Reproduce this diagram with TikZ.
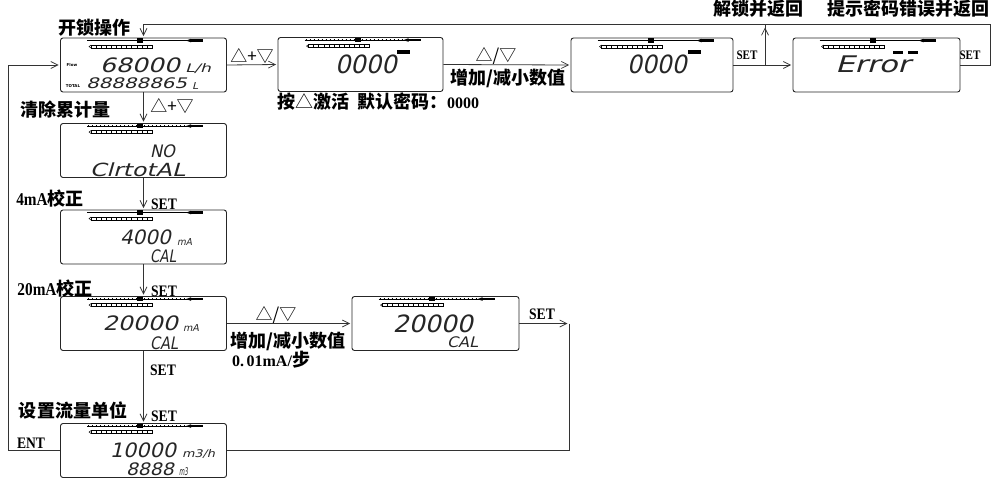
\documentclass[tikz,border=0pt]{standalone}
\usepackage{fontspec}
\usepackage{graphicx}
\usetikzlibrary{arrows.meta,calc}
\setmainfont{Liberation Serif}
\newfontfamily\cjk{Noto Sans CJK SC}
\newfontfamily\latb{Liberation Serif Bold}[FakeStretch=0.85]
\newfontfamily\latbw{Liberation Serif Bold}
\newfontfamily\lcdf{DejaVu Sans}[FakeSlant=0.22]
\newfontfamily\tinyf{DejaVu Sans Bold}
\newcommand\lcdt[6]{\node[inner sep=0,outer sep=0,text=black!85] (#1) at ({(#2+#4)/2},{(#3+#5)/2}) {\resizebox*{\dimexpr#4pt-#2pt\relax}{\dimexpr#5pt-#3pt\relax}{\lcdf #6}};}
\tikzset{lcdbar/.pic={
  \draw[line width=0.5pt] (27,3) -- (143,3);
  \draw[line width=1.6pt, dash pattern=on 1pt off 3pt] (28,3) -- (128,3);
  \fill (77,0.8) rectangle (83,5.2);
  \fill (130,1.8) rectangle (143,4.2);
  \fill (126,3) -- (131,1.2) -- (131,4.8) -- cycle;
  \draw[line width=0.5pt] (31,7.5) rectangle (92,10.5);
  \foreach \i in {1,...,11} \draw[line width=0.5pt] ({31+\i*61/12},7.5) -- ++(0,3);
  \draw[line width=0.5pt] (31,7.5) -- (29,9) -- (31,10.5);
}}
\begin{document}
\begin{tikzpicture}[x=1pt,y=-1pt,
  ln/.style={line width=0.8pt, draw=black!80},
  arr/.style={ln, -{Straight Barb[length=7pt,width=7pt,line width=0.7pt]}, shorten >=1.5pt},
  lcdbox/.style={draw=black!85, line width=0.9pt, rounded corners=2.5pt, minimum width=166pt, minimum height=54pt, inner sep=0},
  cn/.style={inner sep=0, font=\cjk\bfseries\fontsize{18}{18}\selectfont},
  tri/.style={inner sep=0, font=\cjk\fontsize{17}{17}\selectfont},
  setl/.style={inner sep=0, font=\latb\fontsize{16}{16}\selectfont},
  sets/.style={inner sep=0, font=\latb\fontsize{13}{13}\selectfont},
  tinyt/.style={inner sep=0, font=\tinyf\fontsize{4}{4}\selectfont}
  ]
\useasboundingbox (0,0) rectangle (993,479);
% boxes
\node[lcdbox] (b1) at (143.5,65) {};
\node[lcdbox, minimum width=165pt] (b2) at (360.5,64.5) {};
\node[lcdbox, minimum width=162pt] (b3) at (652,65) {};
\node[lcdbox, minimum width=167pt] (b4) at (876.5,65) {};
\node[lcdbox] (b5) at (143.5,150.5) {};
\node[lcdbox] (b6) at (143.5,237) {};
\node[lcdbox] (b7) at (143.5,323.5) {};
\node[lcdbox, minimum width=167pt] (b8) at (435.5,323.5) {};
\node[lcdbox] (b9) at (143.5,450.5) {};
\foreach \b in {b1,b2,b3,b4,b5,b6,b7,b8,b9} \pic at (\b.north west) {lcdbar};
% lcd contents
\lcdt{d1a}{100}{58}{180}{73}{68000}
\lcdt{d1b}{185}{64}{211}{74}{L/h}
\lcdt{d1c}{86}{78}{187}{89}{88888865}
\lcdt{d1d}{192}{82}{198}{89}{L}
\node[tinyt] (d1e) at (72,65.5) {Flow};
\node[tinyt] (d1f) at (73,86.5) {TOTAL};
\lcdt{d2a}{335}{55}{397}{74}{0000}
\fill (397,50) rectangle (410,54);
\lcdt{d3a}{627}{55}{687}{74}{0000}
\fill (688,50) rectangle (701,54);
\lcdt{d4a}{835}{56}{910}{73}{Error}
\fill (893,50.5) rectangle (903,54);
\fill (908,50.5) rectangle (918,54);
\lcdt{d5a}{150}{145}{175}{158}{NO}
\lcdt{d5b}{90}{163}{185}{177}{ClrtotAL}
\lcdt{d6a}{120}{230}{171}{245}{4000}
\lcdt{d6b}{177}{238}{192}{245}{mA}
\lcdt{d6c}{150}{250}{176}{263}{CAL}
\lcdt{d7a}{103}{316}{178}{331}{20000}
\lcdt{d7b}{183}{324}{199}{331}{mA}
\lcdt{d7c}{150}{337}{178}{350}{CAL}
\lcdt{d8a}{393}{315}{473}{333}{20000}
\lcdt{d8c}{447}{337}{478}{348}{CAL}
\lcdt{d9a}{110}{443}{176}{458}{10000}
\lcdt{d9b}{182}{449}{215}{458}{m3/h}
\lcdt{d9c}{126}{463}{174}{476}{8888}
\lcdt{d9d}{179}{468}{188}{476}{m3}
% labels
\node[cn] (t1) at (94,27.5) {开锁操作};
\node[cn] (t2) at (758,8.5) {解锁并返回};
\node[cn] (t3) at (908,8.5) {提示密码错误并返回};
\node[tri] (t4) at (252,56) {△+▽};
\node[tri] (t5) at (496,56) {△/▽};
\node[cn] (t6) at (508,78.5) {增加/减小数值};
\node[cn, anchor=west] (t7) at (277,102) {按{\mdseries △}激活\hspace{8pt}默认密码：{\latbw\fontsize{16}{16}\selectfont 0000}};
\node[sets] (s1) at (747,55) {SET};
\node[sets] (s2) at (970,55) {SET};
\node[tri] (t8) at (172,106) {△+▽};
\node[cn] (t9) at (65,110) {清除累计量};
\node[cn] (t10) at (50,198.5) {{\latb 4mA}校正};
\node[setl] (s3) at (164,204) {SET};
\node[cn] (t11) at (55,289) {{\latb 20mA}校正};
\node[setl] (s4) at (164,291) {SET};
\node[setl] (s5) at (163,370) {SET};
\node[setl] (s6) at (164,416) {SET};
\node[cn] (t12) at (73,410) {设置流量单位};
\node[setl] (s7) at (31,443) {ENT};
\node[tri] (t13) at (276,315) {△/▽};
\node[cn] (t14) at (288,341) {增加/减小数值};
\node[cn] (t15) at (271,360) {{\latbw\fontsize{16}{16}\selectfont 0.\,01mA/}步};
\node[setl] (s8) at (542,314) {SET};
% connectors
\draw[arr] (b1.east) -- (b2.west);
\draw[arr] (b2.east) -- (b3.west);
\draw[arr] (b3.east) -- (b4.west);
\coordinate (br) at (765,65);
\coordinate (bt) at (765,24);
\draw[ln] (br) -- (bt);
\draw[arr] (br) -- ($(bt)+(0,2)$);
\coordinate (rr) at (990,65);
\coordinate (tr) at (990,24);
\coordinate (tl) at (143.5,24);
\draw[ln] (b4.east) -- (rr) -- (tr) -- (tl);
\draw[arr] (tl) -- (b1.north);
\draw[arr] (b1.south) -- (b5.north);
\draw[arr] (b5.south) -- (b6.north);
\draw[arr] (b6.south) -- (b7.north);
\draw[arr] (b7.south) -- (b9.north);
\draw[arr] (b7.east) -- (b8.west);
\coordinate (c8) at (569,323.5);
\coordinate (c8b) at (569,450.5);
\draw[arr] (b8.east) -- (c8);
\draw[ln] (c8) -- (c8b) -- (b9.east);
\coordinate (l1) at (8,450.5);
\coordinate (l2) at (8,65);
\draw[arr] (b9.west) -- (l1) -- (l2) -- (b1.west);
\end{tikzpicture}
\end{document}
